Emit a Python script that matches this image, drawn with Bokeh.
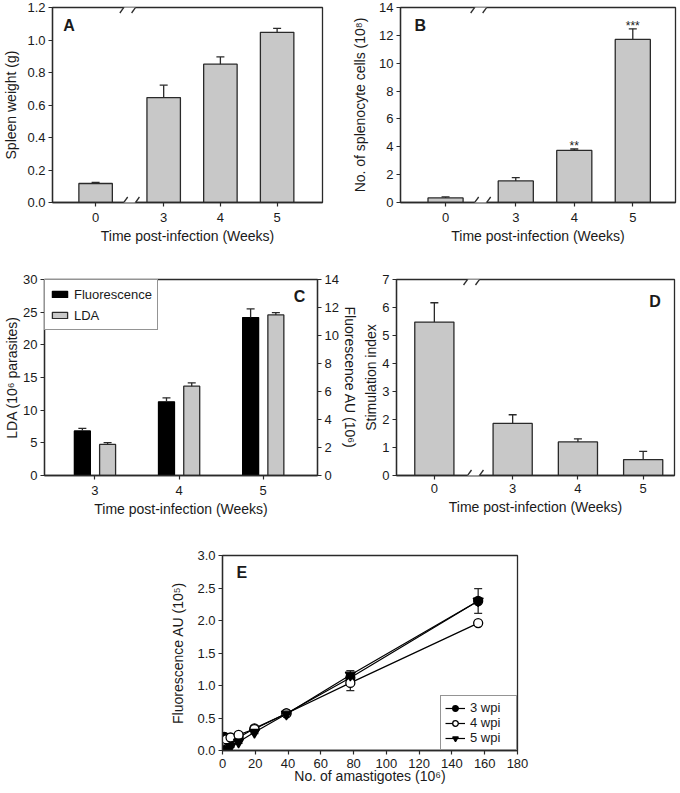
from bokeh.plotting import figure
from bokeh.layouts import column, row
from bokeh.models import (Range1d, LinearAxis, FixedTicker, SingleIntervalTicker,
                          NumeralTickFormatter, Whisker, TeeHead, Arrow, Label,
                          Legend, LegendItem, ColumnDataSource)
from bokeh.core.properties import value
from bokeh.embed import file_html
from bokeh.resources import INLINE

# ------------------------------------------------------------------ data
weeks = ["0", "3", "4", "5"]
spleen_weight = [0.117, 0.646, 0.851, 1.047]
spleen_weight_err = [0.006, 0.076, 0.045, 0.025]
spleen_ticks = [0.0, 0.2, 0.4, 0.6, 0.8, 1.0, 1.2]

splenocytes = [0.33, 1.55, 3.74, 11.71]
splenocytes_err = [0.07, 0.24, 0.10, 0.76]
splenocytes_sig = ["", "", "**", "***"]

weeks_c = ["3", "4", "5"]
fluorescence_c = [3.18, 5.26, 11.28]        # AU (10^6), right axis
fluorescence_c_err = [0.19, 0.29, 0.62]
lda_c = [4.76, 13.67, 24.58]                # 10^6 parasites, left axis
lda_c_err = [0.26, 0.51, 0.36]

stim_index = [5.48, 1.86, 1.20, 0.57]
stim_index_err = [0.69, 0.31, 0.11, 0.29]

amastigotes = [1.2, 2.4, 4.9, 9.8, 19.5, 39, 78, 156]
wpi_labels = ["3 wpi", "4 wpi", "5 wpi"]
wpi3 = [0.21, 0.18, 0.17, 0.20, 0.34, 0.57, 1.12, 2.30]
wpi3_err = [0.05, 0.02, 0.02, 0.02, 0.02, 0.02, 0.03, 0.19]
wpi4 = [0.15, 0.17, 0.20, 0.24, 0.33, 0.57, 1.04, 1.96]
wpi4_err = [0.03, 0.02, 0.02, 0.02, 0.02, 0.02, 0.12, 0.02]
wpi5 = [0.00, 0.02, 0.06, 0.13, 0.28, 0.56, 1.16, 2.30]
wpi5_err = [0.01, 0.01, 0.01, 0.02, 0.02, 0.02, 0.07, 0.02]

# ------------------------------------------------------------------ style
FONT = "Liberation Sans"
INK = "#1a1a1a"
LINE = "#2a2a2a"
GRAY = "#c8c8c8"
BREAK_GAP = 0.2

xpos = [i + (BREAK_GAP if i > 0 else 0.0) for i in range(len(weeks))]
break_x = (xpos[0] + xpos[1]) / 2.0


def make_fig(width, height, xr, yr, ml, mr, mt, mb):
    p = figure(width=width, height=height, x_range=Range1d(*xr), y_range=Range1d(*yr),
               output_backend="svg", toolbar_location=None,
               min_border_left=ml, min_border_right=mr,
               min_border_top=mt, min_border_bottom=mb)
    p.grid.visible = False
    p.outline_line_color = LINE
    p.outline_line_width = 1.3
    p.outline_line_alpha = 1.0
    p.background_fill_color = "white"
    p.border_fill_color = "white"
    return p


def style_axis(ax, tick_standoff, label_standoff):
    ax.axis_line_color = LINE
    ax.axis_line_width = 1.3
    ax.major_tick_line_color = LINE
    ax.major_tick_line_width = 1.2
    ax.major_tick_in = 0
    ax.major_tick_out = 4
    ax.minor_tick_line_color = None
    ax.major_label_text_font = FONT
    ax.major_label_text_font_size = "13px"
    ax.major_label_text_color = INK
    ax.axis_label_text_font = FONT
    ax.axis_label_text_font_size = "14px"
    ax.axis_label_text_font_style = "normal"
    ax.axis_label_text_color = INK
    ax.major_label_standoff = tick_standoff
    ax.axis_label_standoff = label_standoff


def add_break(p, xb, xr, yr, frame_w, frame_h):
    ux = (xr[1] - xr[0]) / frame_w
    uy = (yr[1] - yr[0]) / frame_h
    for yy in (yr[0], yr[1]):
        p.add_layout(Arrow(start=None, end=None, x_start=xb - 6 * ux, y_start=yy,
                           x_end=xb + 6 * ux, y_end=yy, line_color="white", line_width=4))
        for s in (-6, 6):
            p.add_layout(Arrow(start=None, end=None,
                               x_start=xb + (s - 4) * ux, y_start=yy - 5.5 * uy,
                               x_end=xb + (s + 4) * ux, y_end=yy + 5.5 * uy,
                               line_color=LINE, line_width=1.3))


def add_err(p, xs, vals, errs, head=8, both=False, y_range_name="default", level="annotation"):
    lo = [v - e if both else v for v, e in zip(vals, errs)]
    hi = [v + e for v, e in zip(vals, errs)]
    src = ColumnDataSource(dict(x=xs, lo=lo, hi=hi))
    w = Whisker(source=src, base="x", lower="lo", upper="hi", dimension="height",
                line_color=LINE, line_width=1.3, level=level,
                upper_head=TeeHead(size=head, line_color=LINE, line_width=1.3),
                lower_head=TeeHead(size=head, line_color=LINE, line_width=1.3) if both else None,
                y_range_name=y_range_name)
    p.add_layout(w)


def panel_label(p, text, x, y, align="left"):
    p.add_layout(Label(x=x, y=y, text=text, text_font=FONT, text_font_size="16px",
                       text_font_style="bold", text_color=INK, text_baseline="middle",
                       text_align=align))


def week_axis(p):
    p.xaxis.ticker = FixedTicker(ticks=xpos)
    p.xaxis.major_label_overrides = {x: w for x, w in zip(xpos, weeks)}
    p.xaxis.axis_label = "Time post-infection (Weeks)"


# ------------------------------------------------------------------ A
A_W, A_H, A_ML, A_MR, A_MT, A_MB = 340, 252, 46, 18, 7, 50
A_xr, A_yr = (-0.76, 4.0), (0, 1.2)
pA = make_fig(A_W, A_H, A_xr, A_yr, A_ML, A_MR, A_MT, A_MB)
pA.vbar(x=xpos, top=spleen_weight, width=0.59, fill_color=GRAY, line_color=LINE, line_width=1.3)
add_err(pA, xpos, spleen_weight, spleen_weight_err)
week_axis(pA)
pA.yaxis.axis_label = "Spleen weight (g)"
pA.yaxis.ticker = FixedTicker(ticks=spleen_ticks)
pA.yaxis.formatter = NumeralTickFormatter(format="0.0")
style_axis(pA.xaxis[0], 6, 3)
style_axis(pA.yaxis[0], 3, 5)
add_break(pA, break_x, A_xr, A_yr, A_W - A_ML - A_MR, A_H - A_MT - A_MB)
panel_label(pA, "A", -0.57, 1.09)

# ------------------------------------------------------------------ B
B_W, B_H, B_ML, B_MR, B_MT, B_MB = 340, 252, 60, 5, 7, 50
B_xr, B_yr = (-0.77, 3.93), (0, 14)
pB = make_fig(B_W, B_H, B_xr, B_yr, B_ML, B_MR, B_MT, B_MB)
pB.vbar(x=xpos, top=splenocytes, width=0.6, fill_color=GRAY, line_color=LINE, line_width=1.3)
add_err(pB, xpos, splenocytes, splenocytes_err)
pB.text(x=xpos, y=[v + e for v, e in zip(splenocytes, splenocytes_err)], text=splenocytes_sig,
        y_offset=-3, text_align="center", text_baseline="alphabetic",
        text_font=value(FONT), text_font_size="12px", text_color=INK)
week_axis(pB)
pB.yaxis.axis_label = "No. of splenocyte cells (10\u2078)"
pB.yaxis.ticker = SingleIntervalTicker(interval=2, num_minor_ticks=0)
style_axis(pB.xaxis[0], 6, 3)
style_axis(pB.yaxis[0], 3, 8)
add_break(pB, break_x, B_xr, B_yr, B_W - B_ML - B_MR, B_H - B_MT - B_MB)
panel_label(pB, "B", -0.53, 12.7)

# ------------------------------------------------------------------ C
C_W, C_H, C_ML, C_MR, C_MT, C_MB = 360, 273, 44, 42, 27, 50
C_xr, C_yr = (2.40, 5.645), (0, 30)
pC = make_fig(C_W, C_H, C_xr, C_yr, C_ML, C_MR, C_MT, C_MB)
pC.extra_y_ranges = {"fl": Range1d(0, 14)}
xc = [float(w) for w in weeks_c]
x_fl = [x - 0.15 for x in xc]
x_lda = [x + 0.15 for x in xc]
r_fl = pC.vbar(x=x_fl, top=fluorescence_c, width=0.19, y_range_name="fl",
               fill_color="black", line_color="black", line_width=1.3)
r_lda = pC.vbar(x=x_lda, top=lda_c, width=0.19, fill_color=GRAY, line_color=LINE, line_width=1.3)
add_err(pC, x_fl, fluorescence_c, fluorescence_c_err, y_range_name="fl")
add_err(pC, x_lda, lda_c, lda_c_err)
pC.xaxis.ticker = FixedTicker(ticks=xc)
pC.xaxis.axis_label = "Time post-infection (Weeks)"
pC.yaxis.axis_label = "LDA (10\u2076 parasites)"
pC.yaxis.ticker = SingleIntervalTicker(interval=5, num_minor_ticks=0)
axC = LinearAxis(y_range_name="fl", axis_label="Fluorescence AU (10\u2076)",
                 ticker=SingleIntervalTicker(interval=2, num_minor_ticks=0))
pC.add_layout(axC, "right")
style_axis(pC.xaxis[0], 6, 3)
style_axis(pC.yaxis[0], 3, 0)
style_axis(axC, 3, 0)
legC = Legend(items=[LegendItem(label="Fluorescence", renderers=[r_fl]),
                     LegendItem(label="LDA", renderers=[r_lda])],
              location="top_left", margin=0, padding=5, spacing=3,
              glyph_width=19, glyph_height=8, label_height=18, label_standoff=5,
              label_text_font=FONT, label_text_font_size="13px", label_text_color=INK,
              border_line_color=LINE, border_line_width=1.2,
              background_fill_color="white", background_fill_alpha=1.0)
pC.add_layout(legC)
panel_label(pC, "C", 5.50, 27.4, align="right")

# ------------------------------------------------------------------ D
D_W, D_H, D_ML, D_MR, D_MT, D_MB = 320, 273, 35, 6, 27, 50
D_xr, D_yr = (-0.58, 3.68), (0, 7)
pD = make_fig(D_W, D_H, D_xr, D_yr, D_ML, D_MR, D_MT, D_MB)
pD.vbar(x=xpos, top=stim_index, width=0.6, fill_color=GRAY, line_color=LINE, line_width=1.3)
add_err(pD, xpos, stim_index, stim_index_err)
week_axis(pD)
pD.yaxis.axis_label = "Stimulation index"
pD.yaxis.ticker = SingleIntervalTicker(interval=1, num_minor_ticks=0)
style_axis(pD.xaxis[0], 4, 3)
style_axis(pD.yaxis[0], 3, 0)
add_break(pD, break_x, D_xr, D_yr, D_W - D_ML - D_MR, D_H - D_MT - D_MB)
panel_label(pD, "D", 3.47, 6.22, align="right")

# ------------------------------------------------------------------ E
pE = make_fig(680, 267, (0, 180), (0, 3), 222, 163, 30, 42)
series = [(wpi_labels[0], wpi3, wpi3_err, "circle", "black"),
          (wpi_labels[1], wpi4, wpi4_err, "circle", "white"),
          (wpi_labels[2], wpi5, wpi5_err, "inverted_triangle", "black")]
items = []
for lab, ys, es, mk, fc in series:
    add_err(pE, amastigotes, ys, es, head=8, both=True, level="underlay")
    rl = pE.line(amastigotes, ys, line_color="black", line_width=1.2)
    rs = pE.scatter(amastigotes, ys, marker=mk, size=9 if mk == "circle" else 10,
                    fill_color=fc, line_color="black", line_width=1.3)
    items.append(LegendItem(label=lab, renderers=[rl, rs]))
pE.xaxis.axis_label = "No. of amastigotes (10\u2076)"
pE.yaxis.axis_label = "Fluorescence AU (10\u2075)"
pE.xaxis.ticker = SingleIntervalTicker(interval=20, num_minor_ticks=0)
pE.yaxis.ticker = SingleIntervalTicker(interval=0.5, num_minor_ticks=0)
pE.yaxis.formatter = NumeralTickFormatter(format="0.0")
style_axis(pE.xaxis[0], 4, -3)
style_axis(pE.yaxis[0], 3, 8)
legE = Legend(items=items, location="bottom_right", margin=0, padding=4, spacing=0,
              glyph_width=20, glyph_height=14, label_height=14, label_standoff=5,
              label_width=42,
              label_text_font=FONT, label_text_font_size="13px", label_text_color=INK,
              border_line_color=LINE, border_line_width=1.2,
              background_fill_color="white", background_fill_alpha=1.0)
pE.add_layout(legE)
panel_label(pE, "E", 8.5, 2.74)

layout = column(row(pA, pB), row(pC, pD), pE)
open("out.html", "w").write(file_html(layout, INLINE))
